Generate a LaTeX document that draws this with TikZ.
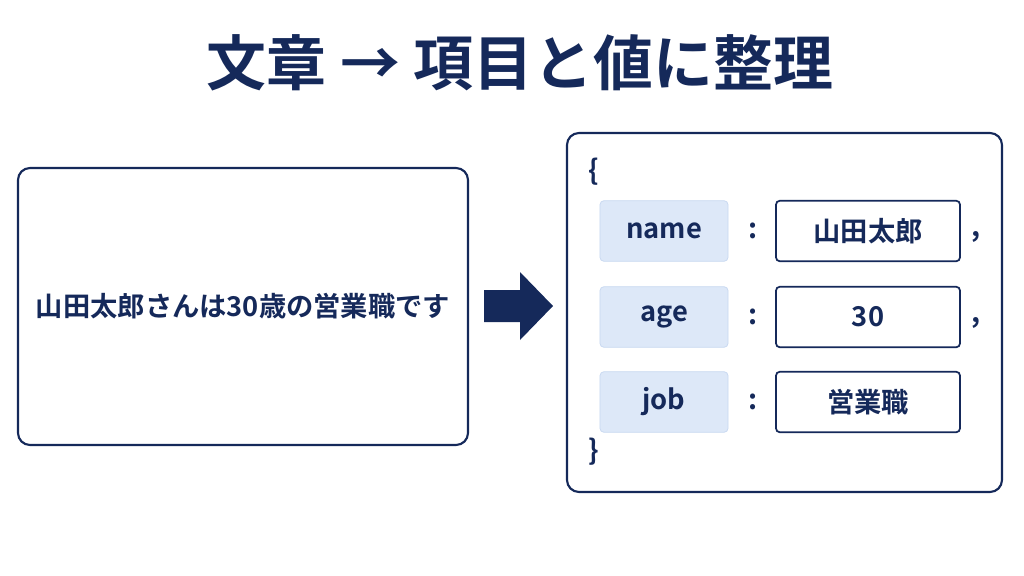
\documentclass[tikz,border=0pt]{standalone}
\usepackage{fontspec}
\setmainfont{Noto Sans CJK JP}[BoldFont={Noto Sans CJK JP Bold}]
\usetikzlibrary{positioning}
\definecolor{navy}{HTML}{15295A}
\definecolor{keyfill}{HTML}{DDE8F8}
\definecolor{keyline}{HTML}{C9D9F1}
\tikzset{
  panel/.style={draw=navy,line width=1.6pt,rounded corners=9pt,fill=white},
  keybox/.style={draw=keyline,fill=keyfill,line width=0.6pt,rounded corners=3pt,
    minimum width=3.38cm,minimum height=1.6cm,text=navy,font=\fontsize{20.5}{24}\selectfont\bfseries},
  valbox/.style={draw=navy,fill=white,line width=1.3pt,rounded corners=3pt,
    minimum width=4.86cm,minimum height=1.6cm,text=navy,font=\fontsize{20.5}{24}\selectfont\bfseries},
  punct/.style={text=navy,font=\fontsize{21}{24}\selectfont\bfseries}
}
\begin{document}
\begin{tikzpicture}[x=0.0264cm,y=-0.0264cm]
\useasboundingbox (0,0) rectangle (1024,576);
% title
\node[text=navy,font=\fontsize{45}{52}\selectfont\bfseries] (title) at (520,63) {文章 → 項目と値に整理};
% sentence side
\draw[panel] (18,168) rectangle (468,445);
\node[text=navy,font=\fontsize{20.5}{24}\selectfont\bfseries] (sentence) at (243,306) {山田太郎さんは30歳の営業職です};
\fill[navy] (484,290) -- (520,290) -- (520,272) -- (553,306) -- (520,340) -- (520,322) -- (484,322) -- cycle;
% structured side
\draw[panel] (567,133) rectangle (1002,492);
\node[punct] (open) at (594,172) {\{};
\node[punct] (close) at (594,452) {\}};
\foreach \y/\k/\v/\c in {231/name/山田太郎/{,},317/age/30/{,},402/job/営業職/{}}{
  \node[keybox] (key-\k) at (664,\y) {\k};
  \node[punct] (colon-\k) at (753,\y) {:};
  \node[valbox] (val-\k) at (868,\y) {\v};
  \node[punct] (comma-\k) at (976,\y+6) {\c};
}
\end{tikzpicture}
\end{document}
